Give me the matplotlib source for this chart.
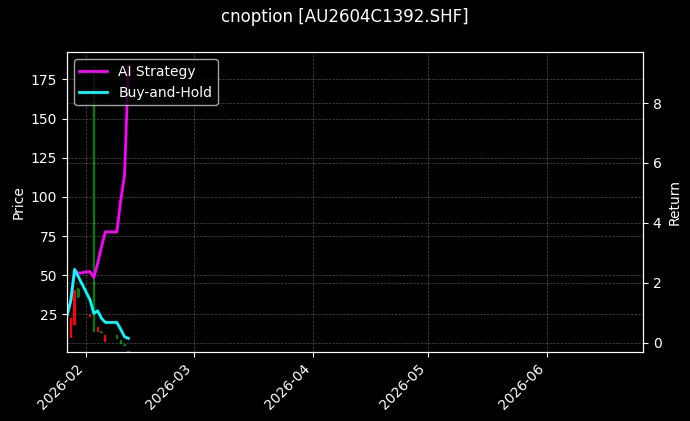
import matplotlib
matplotlib.use('Agg')
import matplotlib.pyplot as plt
import matplotlib.dates as mdates
import pandas as pd

title = 'cnoption [AU2604C1392.SHF]'

dates = ['2026-01-27', '2026-01-28', '2026-01-29', '2026-01-30', '2026-02-02',
         '2026-02-03', '2026-02-04', '2026-02-05', '2026-02-06', '2026-02-09',
         '2026-02-10', '2026-02-11', '2026-02-12']

open_ = [14.0, 10.3, 18.0, 41.0, 23.5, 25.0, 13.5, 14.0, 7.0, 11.5, 8.5, 5.5, 1.6]
high = [15.0, 22.5, 40.5, 41.5, 25.5, 183.3, 17.0, 14.5, 11.5, 12.0, 8.8, 5.8, 1.8]
low = [13.0, 10.0, 18.0, 35.5, 23.3, 13.5, 13.5, 13.0, 7.0, 9.5, 6.0, 4.8, 0.95]
close = [14.7, 22.0, 40.0, 36.0, 25.0, 15.0, 16.7, 13.3, 11.0, 10.0, 6.5, 5.0, 0.95]

ai_return = [0.9, 1.4, 2.42, 2.32, 2.38, 2.18, 2.65, 3.2, 3.7, 3.7, 4.75, 5.6, 9.24]
bh_return = [0.9, 1.4, 2.45, 2.2, 1.44, 0.98, 1.07, 0.82, 0.68, 0.68, 0.45, 0.2, 0.15]

x_start = '2026-01-27'
x_end = '2026-06-26'

plt.style.use('dark_background')

df = pd.DataFrame({'open': open_, 'high': high, 'low': low, 'close': close,
                   'ai': ai_return, 'bh': bh_return}, index=pd.to_datetime(dates))

fig, ax = plt.subplots(figsize=(6.9, 4.21), dpi=100)
fig.subplots_adjust(left=0.097, right=0.932, top=0.876, bottom=0.164)

# candles: red = up, green = down
colors = ['red' if c >= o else 'green' for o, c in zip(df['open'], df['close'])]
x = mdates.date2num(df.index)
ax.vlines(x, df['low'], df['high'], colors=colors, linewidth=1.6)
bottoms = [min(o, c) for o, c in zip(df['open'], df['close'])]
heights = [abs(c - o) for o, c in zip(df['open'], df['close'])]
ax.bar(x, heights, bottom=bottoms, width=0.6, color=colors)
ax.set_ylabel('Price')
ax.grid(True, linestyle='--', linewidth=0.5, alpha=0.3)

ax2 = ax.twinx()
ax2.plot(df.index, df['ai'], color='magenta', linewidth=2, label='AI Strategy')
ax2.plot(df.index, df['bh'], color='cyan', linewidth=2, label='Buy-and-Hold')
ax2.set_ylabel('Return')
ax2.grid(True, linestyle='--', linewidth=0.5, alpha=0.3)

ax.set_xlim(pd.Timestamp(x_start), pd.Timestamp(x_end))
ax.xaxis.set_major_locator(mdates.MonthLocator())
ax.xaxis.set_major_formatter(mdates.DateFormatter('%Y-%m'))
plt.setp(ax.get_xticklabels(), rotation=45, ha='right')

ax2.legend(loc='upper left')
fig.suptitle(title)

fig.savefig('out.png', dpi=100)
